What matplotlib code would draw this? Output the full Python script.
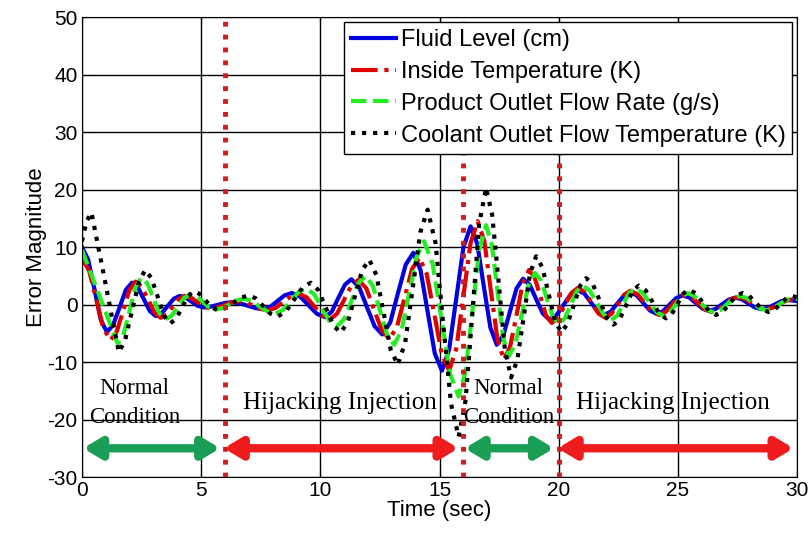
import matplotlib.pyplot as plt

plt.rcParams['axes.unicode_minus'] = False

# Fluid Level (cm)
fluid_t = [0, 0.26, 0.53, 0.79, 1.05, 1.31, 1.58, 1.84, 2.1, 2.35, 2.6, 2.85, 3.1,
           3.35, 3.6, 3.85, 4.1, 4.35, 4.6, 4.85, 5.1, 5.4, 5.7, 6.0, 6.3, 6.63,
           6.95, 7.28, 7.6, 7.9, 8.2, 8.5, 8.8, 9.15, 9.5, 9.85, 10.2, 10.48, 10.75,
           11.03, 11.3, 11.63, 11.95, 12.28, 12.6, 12.93, 13.25, 13.58, 13.9, 14.2,
           14.5, 14.8, 15.1, 15.4, 15.7, 16.0, 16.3, 16.58, 16.85, 17.13, 17.4,
           17.68, 17.95, 18.23, 18.5, 18.78, 19.05, 19.33, 19.6, 19.9, 20.2, 20.5,
           20.8, 21.08, 21.35, 21.63, 21.9, 22.18, 22.45, 22.73, 23.0, 23.28, 23.55,
           23.83, 24.1, 24.38, 24.65, 24.93, 25.2, 25.48, 25.75, 26.03, 26.3, 26.58,
           26.85, 27.13, 27.4, 27.68, 27.95, 28.23, 28.5, 28.78, 29.05, 29.33, 29.6, 30]
fluid_v = [10, 7.84, 2.6, -2.64, -4.8, -3.54, -0.5, 2.54, 3.8, 2.95, 0.9, -1.15, -2.0,
           -1.49, -0.25, 0.99, 1.5, 1.21, 0.5, -0.21, -0.5, -0.37, -0.05, 0.27, 0.4, 0.22,
           -0.2, -0.62, -0.8, -0.39, 0.6, 1.59, 2.0, 1.39, -0.1, -1.59, -2.2, -1.24, 1.1,
           3.44, 4.4, 3.0, -0.4, -3.8, -5.2, -3.13, 1.9, 6.93, 9.0, 6.01,
           -1.25, -8.51, -11.5, -7.84, 1.05, 9.94, 13.6, 10.59, 3.3, -3.99, -7.0,
           -5.32, -1.25, 2.82, 4.5, 3.46, 0.95, -1.56, -2.6, -1.86, -0.05, 1.76,
           2.5, 1.87, 0.35, -1.17, -1.8, -1.23, 0.15, 1.53, 2.1, 1.56, 0.25,
           -1.06, -1.6, -1.13, 0.0, 1.13, 1.6, 1.21, 0.25, -0.71, -1.1, -0.76,
           0.05, 0.86, 1.2, 0.91, 0.2, -0.51, -0.8, -0.57, 0.0, 0.57, 0.8, 0.6]

# Inside Temperature (K)
temp_t = [0, 0.3, 0.6, 0.9, 1.2, 1.46, 1.73, 1.99, 2.25, 2.51, 2.78, 3.04, 3.3, 3.55,
          3.8, 4.05, 4.3, 4.58, 4.85, 5.13, 5.4, 5.7, 6.0, 6.3, 6.6, 6.9, 7.2, 7.5,
          7.8, 8.13, 8.45, 8.78, 9.1, 9.43, 9.75, 10.08, 10.4, 10.7, 11.0, 11.3, 11.6,
          11.93, 12.25, 12.58, 12.9, 13.21, 13.53, 13.84, 14.15, 14.46, 14.78, 15.09,
          15.4, 15.7, 16.0, 16.3, 16.6, 16.88, 17.15, 17.43, 17.7, 17.96, 18.23,
          18.49, 18.75, 18.99, 19.23, 19.46, 19.7, 19.98, 20.25, 20.53, 20.8, 21.09,
          21.38, 21.66, 21.95, 22.21, 22.48, 22.74, 23.0, 23.3, 23.6, 23.9, 24.2,
          24.48, 24.75, 25.03, 25.3, 25.58, 25.85, 26.13, 26.4, 26.68, 26.95, 27.23,
          27.5, 27.8, 28.1, 28.4, 28.7, 28.98, 29.25, 29.53, 29.8, 30]
temp_v = [8.0, 5.93, 0.9, -4.13, -6.2, -4.71, -1.1, 2.51, 4.0, 3.08, 0.85, -1.38, -2.3, -1.75,
          -0.4, 0.95, 1.5, 1.18, 0.4, -0.38, -0.7, -0.51, -0.05, 0.41, 0.6, 0.37, -0.2, -0.77,
          -1.0, -0.58, 0.45, 1.48, 1.9, 1.24, -0.35, -1.94, -2.6, -1.59, 0.85, 3.29, 4.3,
          2.8, -0.85, -4.5, -6.0, -3.93, 1.1, 6.13, 8.2, 5.32, -1.65, -8.62,
          -11.5, -7.7, 1.5, 10.7, 14.5, 10.98, 2.45, -6.08, -9.6, -7.32, -1.8,
          3.72, 6.0, 4.66, 1.4, -1.86, -3.2, -2.31, -0.15, 2.01, 2.9, 2.14,
          0.3, -1.54, -2.3, -1.61, 0.05, 1.71, 2.4, 1.79, 0.3, -1.19, -1.8,
          -1.29, -0.05, 1.19, 1.7, 1.26, 0.2, -0.86, -1.3, -0.92, 0.0, 0.92,
          1.3, 0.99, 0.25, -0.49, -0.8, -0.55, 0.05, 0.65, 0.9, 0.8]

# Product Outlet Flow Rate (g/s)
flow_t = [0, 0.22, 0.75, 1.28, 1.5, 1.75, 2.0, 2.25, 2.5, 2.75, 3.0, 3.25, 3.5, 3.76,
          4.03, 4.29, 4.55, 4.81, 5.08, 5.34, 5.6, 5.9, 6.2, 6.5, 6.8, 7.13, 7.45, 7.78,
          8.1, 8.43, 8.75, 9.08, 9.4, 9.73, 10.05, 10.38, 10.7, 11.0, 11.3, 11.6, 11.9,
          12.2, 12.5, 12.8, 13.1, 13.41, 13.73, 14.04, 14.35, 14.71, 15.08, 15.44,
          15.8, 16.09, 16.38, 16.66, 16.95, 17.19, 17.43, 17.66, 17.9, 18.18, 18.45,
          18.73, 19.0, 19.25, 19.5, 19.75, 20.0, 20.25, 20.5, 20.75, 21.0, 21.3,
          21.6, 21.9, 22.2, 22.45, 22.7, 22.95, 23.2, 23.5, 23.8, 24.1, 24.4,
          24.65, 24.9, 25.15, 25.4, 25.68, 25.95, 26.23, 26.5, 26.78, 27.05, 27.33,
          27.6, 27.88, 28.15, 28.43, 28.7, 28.98, 29.25, 29.53, 29.8, 30]
flow_v = [9.5, 7.12, 1.35, -4.42, -6.8, -5.12, -1.05, 3.02, 4.7, 3.63, 1.05, -1.53, -2.6, -1.96,
          -0.4, 1.16, 1.8, 1.41, 0.45, -0.51, -0.9, -0.62, 0.05, 0.72, 1.0, 0.62, -0.3, -1.22,
          -1.6, -0.96, 0.6, 2.16, 2.8, 1.84, -0.5, -2.84, -3.8, -2.52, 0.6, 3.72, 5.0,
          3.25, -1.0, -5.25, -7.0, -4.37, 2.0, 8.37, 11.0, 7.06, -2.5, -12.06,
          -16.0, -11.65, -1.1, 9.45, 13.8, 10.47, 2.4, -5.67, -9.0, -6.88, -1.75,
          3.38, 5.5, 4.2, 1.05, -2.1, -3.4, -2.42, -0.05, 2.32, 3.3, 2.42,
          0.3, -1.82, -2.7, -1.9, 0.05, 2.0, 2.8, 2.1, 0.4, -1.3, -2.0,
          -1.42, 0.0, 1.42, 2.0, 1.5, 0.3, -0.9, -1.4, -0.98, 0.05, 1.08,
          1.5, 1.14, 0.25, -0.64, -1.0, -0.69, 0.05, 0.79, 1.1, 1.0]

# Coolant Outlet Flow Temperature (K)
cool_t = [0, 0.2, 0.4, 0.57, 0.98, 1.38, 1.55, 1.81, 2.1, 2.39, 2.65, 2.91, 3.18, 3.44,
          3.7, 3.95, 4.2, 4.45, 4.7, 4.95, 5.2, 5.45, 5.7, 6.03, 6.35, 6.68, 7.0, 7.3,
          7.6, 7.9, 8.2, 8.55, 8.9, 9.25, 9.6, 9.91, 10.23, 10.54, 10.85, 11.15, 11.45,
          11.75, 12.05, 12.35, 12.65, 12.95, 13.25, 13.56, 13.88, 14.19, 14.5, 14.83,
          15.15, 15.48, 15.8, 16.09, 16.38, 16.66, 16.95, 17.21, 17.48, 17.74, 18.0,
          18.26, 18.53, 18.79, 19.05, 19.31, 19.58, 19.84, 20.1, 20.36, 20.63, 20.89,
          21.15, 21.44, 21.73, 22.01, 22.3, 22.56, 22.83, 23.09, 23.35, 23.64, 23.93,
          24.21, 24.5, 24.74, 24.98, 25.21, 25.45, 25.74, 26.03, 26.31, 26.6, 26.88,
          27.15, 27.43, 27.7, 27.98, 28.25, 28.53, 28.8, 29.05, 29.3, 29.55, 29.8, 30]
cool_v = [11.0, 14.5, 16.0, 12.45, 3.85, -4.75, -8.3, -6.21, -1.15, 3.91, 6.0, 4.64, 1.35, -1.94,
          -3.3, -2.48, -0.5, 1.48, 2.3, 1.82, 0.65, -0.52, -1.0, -0.62, 0.3, 1.22, 1.6, 1.06,
          -0.25, -1.56, -2.1, -1.24, 0.85, 2.94, 3.8, 2.53, -0.55, -3.63, -4.9, -3.05, 1.45,
          5.95, 7.8, 5.13, -1.35, -7.83, -10.5, -6.56, 3.0, 12.56, 16.5, 10.73,
          -3.25, -17.23, -23.0, -16.68, -1.35, 13.98, 20.3, 15.48, 3.8, -7.88, -12.7,
          -9.62, -2.15, 5.32, 8.4, 6.47, 1.8, -2.87, -4.8, -3.43, -0.1, 3.23,
          4.6, 3.42, 0.55, -2.32, -3.5, -2.51, -0.1, 2.31, 3.3, 2.47, 0.45,
          -1.57, -2.4, -1.67, 0.1, 1.87, 2.6, 1.96, 0.4, -1.16, -1.8, -1.25,
          0.1, 1.45, 2.0, 1.52, 0.35, -0.82, -1.3, -0.89, 0.1, 1.09, 1.5, 1.2]

switch_times = [6, 16, 20]
phase_spans = [(0.05, 5.8), (5.95, 15.8), (16.05, 19.8), (19.95, 29.85)]
phase_colors = ['#1a9e55', '#ee1c1c', '#1a9e55', '#ee1c1c']
phase_labels = ['Normal\nCondition', 'Hijacking Injection', 'Normal\nCondition', 'Hijacking Injection']
label_x = [2.2, 10.8, 17.9, 24.8]
label_size = [16.5, 18, 16.5, 18]

fig = plt.figure(figsize=(8.11, 5.33), dpi=100)
ax = fig.add_axes([0.101, 0.105, 0.882, 0.863])

ax.plot(fluid_t, fluid_v, color='#0000e0', lw=3, label='Fluid Level (cm)')
ax.plot(temp_t, temp_v, color='#e00000', lw=3, ls='-.', label='Inside Temperature (K)')
ax.plot(flow_t, flow_v, color='#22ee22', lw=3, ls='--', label='Product Outlet Flow Rate (g/s)')
ax.plot(cool_t, cool_v, color='black', lw=3, ls=':', label='Coolant Outlet Flow Temperature (K)')

for t in switch_times:
    ax.axvline(t, color='#d01c1c', lw=3.5, ls=':', zorder=4)

for (x0, x1), c in zip(phase_spans, phase_colors):
    ax.annotate('', xy=(x1, -25), xytext=(x0, -25),
                arrowprops=dict(arrowstyle='<|-|>,head_length=1.0,head_width=0.6',
                                color=c, lw=6, shrinkA=0, shrinkB=0))

for x, s, fs in zip(label_x, phase_labels, label_size):
    ax.text(x, -17.2, s, ha='center', va='center', fontsize=fs,
            family='Liberation Serif', linespacing=1.5)

ax.set_xlim(0, 30)
ax.set_ylim(-30, 50)
ax.set_xticks(range(0, 31, 5))
ax.set_yticks(range(-30, 51, 10))
ax.grid(True, color='black', lw=1, ls='-')
ax.set_axisbelow(True)
ax.tick_params(labelsize=15, direction='in', length=4, pad=3, top=True, right=True)
for lab in ax.get_xticklabels() + ax.get_yticklabels():
    lab.set_family('Liberation Sans')
ax.set_xlabel('Time (sec)', fontsize=16, family='Liberation Sans', labelpad=0)
ax.set_ylabel('Error Magnitude', fontsize=16, family='Liberation Sans', labelpad=0)

leg = ax.legend(loc='upper right', prop={'family': 'Liberation Sans', 'size': 17},
                handlelength=1.9, handletextpad=0.2, borderpad=0.3, labelspacing=0.42,
                fancybox=False, framealpha=1, edgecolor='black', borderaxespad=0.2)
leg.get_frame().set_linewidth(1)

fig.savefig('out.png', dpi=100)
